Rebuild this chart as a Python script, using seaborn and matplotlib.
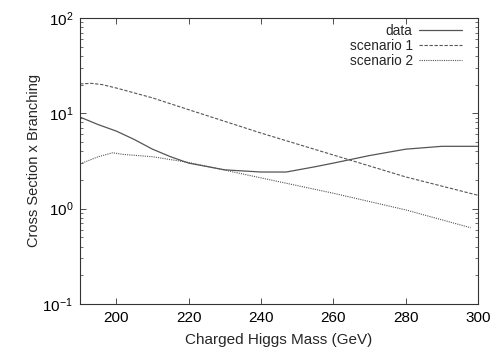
import pandas as pd
import matplotlib
matplotlib.use("Agg")
import matplotlib.pyplot as plt
import seaborn as sns
from matplotlib.ticker import LogLocator, FixedLocator

# Valores
masa_data = [190, 195, 200, 205, 210, 215, 220, 230, 240, 247, 255, 260, 270, 280, 290, 300]
data = [9.1, 7.6, 6.5, 5.3, 4.2, 3.5, 3.0, 2.55, 2.42, 2.42, 2.75, 3.0, 3.6, 4.2, 4.5, 4.5]

masa_s1 = [190, 193, 196, 200, 210, 220, 240, 260, 280, 300]
scen1 = [20.3, 20.6, 20.0, 18.4, 14.5, 10.9, 6.2, 3.65, 2.15, 1.38]

masa_s2 = [190, 195, 199, 202, 210, 220, 240, 260, 280, 298]
scen2 = [2.95, 3.5, 3.85, 3.7, 3.5, 3.05, 2.1, 1.45, 0.97, 0.63]

sns.set_theme(style="ticks")
plt.rcParams["font.family"] = ["Liberation Sans", "DejaVu Sans"]

fig = plt.figure(figsize=(5.01, 3.51), dpi=100)
ax = fig.add_axes([0.16, 0.134, 0.794, 0.815])

color = "#555555"
sns.lineplot(x=masa_data, y=data, ax=ax, color=color, lw=0.9, label="data")
sns.lineplot(x=masa_s1, y=scen1, ax=ax, color=color, lw=0.8, label="scenario 1",
             linestyle=(0, (3, 1.5)))
sns.lineplot(x=masa_s2, y=scen2, ax=ax, color=color, lw=0.8, label="scenario 2",
             linestyle=(0, (1, 1)))

ax.set_yscale("log")
ax.set_xlim(190, 300)
ax.set_ylim(0.1, 100)
ax.xaxis.set_major_locator(FixedLocator([200, 220, 240, 260, 280, 300]))
ax.yaxis.set_minor_locator(LogLocator(base=10, subs=range(2, 10)))
ax.tick_params(which="both", direction="in", top=True, right=True, colors="#333333",
               labelsize=11, labelcolor="black")
ax.tick_params(which="major", length=4, width=0.6, pad=5)
ax.tick_params(which="minor", length=2, width=0.5)
for s in ax.spines.values():
    s.set_linewidth(0.8)
    s.set_color("#333333")

ax.set_xlabel("Charged Higgs Mass (GeV)", fontsize=11, labelpad=6)
ax.set_ylabel("Cross Section x Branching", fontsize=10.5, labelpad=1)

ax.legend(loc="upper right", bbox_to_anchor=(1.0, 1.035), frameon=False,
          markerfirst=False, fontsize=9.8, handlelength=3.1, handletextpad=0.5,
          labelspacing=0.05, borderaxespad=0.8)

fig.savefig("out.png", dpi=100)
